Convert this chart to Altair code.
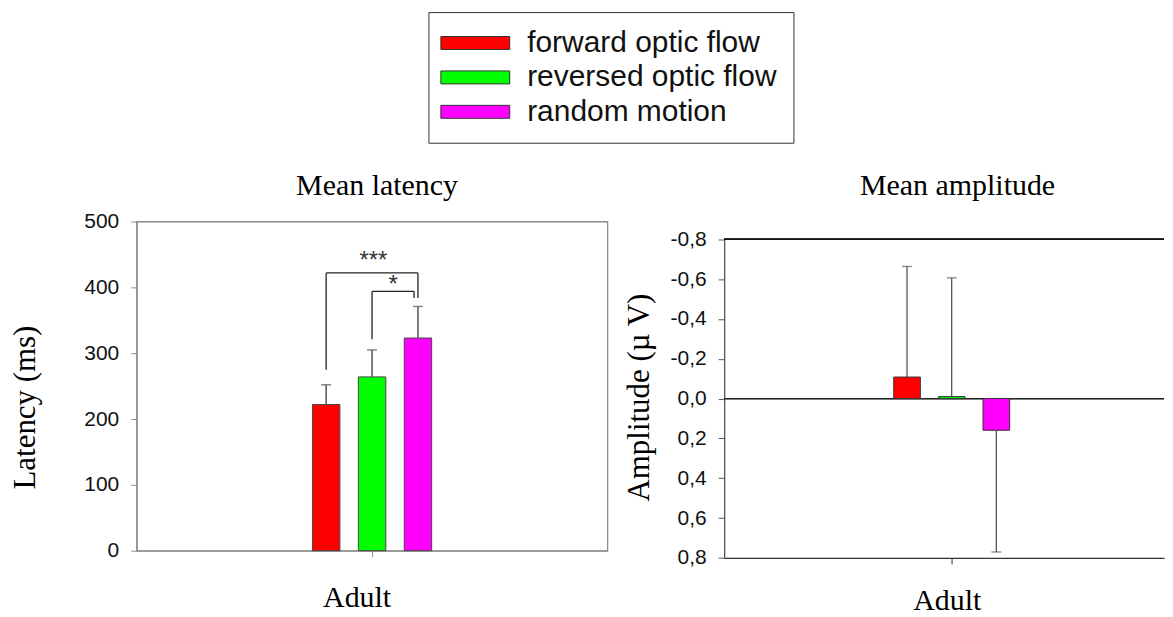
import altair as alt
import pandas as pd

# ---------------- data ----------------
group_label = "Adult"
conditions = ["forward optic flow", "reversed optic flow", "random motion"]
colors = ["#FF0000", "#00FF00", "#FF00FF"]
slot = [-1, 0, 1]  # position of each condition inside the group

latency_mean = [222, 264, 323]
latency_err = [30, 41, 48]

amp_mean = [-0.108, -0.010, 0.159]
amp_err = [0.555, 0.596, 0.611]

# significance brackets on the latency panel
br_x1 = [-1, 0]
br_x2 = [1, 0.915]
br_top = [422, 394]
br_left_bottom = [275, 321]
br_right_bottom = [384, 384]
br_label = ["***", "*"]
br_label_x = [0.03, 0.46]
br_label_y = [430, 393]

lat_ticks = [0, 100, 200, 300, 400, 500]
amp_ticks = [-0.8, -0.6, -0.4, -0.2, 0.0, 0.2, 0.4, 0.6, 0.8]

# ---------------- tables ----------------
lat = pd.DataFrame({"condition": conditions, "slot": slot,
                    "mean": latency_mean,
                    "end": [m + e for m, e in zip(latency_mean, latency_err)]})
amp = pd.DataFrame({"condition": conditions, "slot": slot,
                    "mean": amp_mean,
                    "end": [m + (e if m > 0 else -e) for m, e in zip(amp_mean, amp_err)]})
br = pd.DataFrame({"x1": br_x1, "x2": br_x2, "top": br_top,
                   "lb": br_left_bottom, "rb": br_right_bottom,
                   "label": br_label, "lx": br_label_x, "ly": br_label_y})

SERIF = "Liberation Serif"
SANS = "Liberation Sans"

legend = alt.Legend(
    title=None, orient="none", legendX=292.5, legendY=-210, direction="vertical",
    symbolType="M-5.31,-1H5.31V1H-5.31Z", symbolSize=169, symbolOffset=16,
    symbolStrokeColor="#333333", symbolStrokeWidth=1, symbolOpacity=1,
    labelFont=SANS, labelFontSize=30, labelColor="#111111", labelOffset=37,
    labelLimit=0, rowPadding=4.5, padding=16, strokeColor="#333333",
    fillColor="white",
)
color = alt.Color("condition:N", sort=conditions,
                  scale=alt.Scale(domain=conditions, range=colors), legend=legend)

# ---------------- left panel: latency ----------------
lx_scale = alt.Scale(domain=[-5.02, 5.02], nice=False, zero=False)
ly_scale = alt.Scale(domain=[0, 500], nice=False)
gray = "#8c8c8c"

lx_axis = alt.Axis(values=[0], labelExpr=f"'{group_label}'", title=None, grid=False,
                   tickSize=6, tickColor=gray, domainColor=gray, domainWidth=1.3,
                   labelFont=SERIF, labelFontSize=30, labelColor="black",
                   labelPadding=26, labelOffset=-15.5)
ly_axis = alt.Axis(values=lat_ticks, title="Latency (ms)", titleFont=SERIF,
                   titleFontSize=31, titleFontWeight="normal", titleColor="black",
                   titleAngle=270, titleX=-102.5, titleY=186, titleAlign="center",
                   titleBaseline="alphabetic", grid=False, tickSize=6,
                   tickColor=gray, domainColor=gray, domainWidth=1.3,
                   labelPadding=12, labelFont=SANS, labelFontSize=21,
                   labelColor="#111111")

lbase = alt.Chart(lat)
l_bars = lbase.mark_bar(width=27.5, stroke="#444444", strokeWidth=1, orient="vertical").encode(
    x=alt.X("slot:Q", scale=lx_scale, axis=lx_axis),
    y=alt.Y("mean:Q", scale=ly_scale, axis=ly_axis),
    color=color,
)
l_err = lbase.mark_rule(color="#555555", strokeWidth=1.5).encode(
    x="slot:Q", y="mean:Q", y2="end:Q")
l_cap = lbase.mark_tick(orient="horizontal", size=10, thickness=1.5, color="#555555").encode(
    x="slot:Q", y="end:Q")

bbase = alt.Chart(br)
b_h = bbase.mark_rule(color="#222222", strokeWidth=1.3).encode(x="x1:Q", x2="x2:Q", y="top:Q")
b_l = bbase.mark_rule(color="#222222", strokeWidth=1.3).encode(x="x1:Q", y="lb:Q", y2="top:Q")
b_r = bbase.mark_rule(color="#222222", strokeWidth=1.3).encode(x="x2:Q", y="rb:Q", y2="top:Q")
b_t = bbase.mark_text(font=SANS, fontSize=24, baseline="alphabetic", align="center",
                      color="#333333").encode(x="lx:Q", y="ly:Q", text="label:N")

left = alt.layer(l_bars, l_err, l_cap, b_h, b_l, b_r, b_t).properties(
    width=472, height=330,
    title=alt.TitleParams("Mean latency", font=SERIF, fontSize=30, fontWeight="normal",
                          color="black", anchor="middle", frame="group",
                          baseline="alphabetic", offset=26, dx=5, dy=40),
    view=alt.ViewBackground(stroke=gray, strokeWidth=1.3),
)

# ---------------- right panel: amplitude ----------------
rx_scale = alt.Scale(domain=[-4.985, 4.644], nice=False, zero=False)
ry_scale = alt.Scale(domain=[-0.8, 0.8], range=[17.7, 337.3], nice=False, zero=False)

rx_axis = alt.Axis(values=[0], labelExpr=f"'{group_label}'", title=None, grid=False,
                   tickSize=6, tickColor="#333333", domainColor="#333333", domainWidth=1.3,
                   labelFont=SERIF, labelFontSize=30, labelColor="black",
                   labelPadding=22, labelOffset=-5)
ry_axis = alt.Axis(values=amp_ticks,
                   labelExpr="(datum.value < -1e-9 ? '-' : '') + replace(format(abs(datum.value), '.1f'), '.', ',')",
                   title="Amplitude (\u00b5 V)", titleFont=SERIF, titleFontSize=31,
                   titleFontWeight="normal", titleColor="black", titleAngle=270,
                   titleX=-76, titleY=176, titleAlign="center", titleBaseline="alphabetic",
                   grid=False, tickSize=6, tickColor="#555555", domainColor="#555555",
                   domainWidth=1.3, labelPadding=12, labelFont=SANS, labelFontSize=21,
                   labelColor="#111111")

rbase = alt.Chart(amp)
r_bars = rbase.mark_bar(width=26.7, stroke="#333333", strokeWidth=1, orient="vertical").encode(
    x=alt.X("slot:Q", scale=rx_scale, axis=rx_axis),
    y=alt.Y("mean:Q", scale=ry_scale, axis=ry_axis),
    color=color,
)
r_err = rbase.mark_rule(color="#555555", strokeWidth=1.3).encode(
    x="slot:Q", y="mean:Q", y2="end:Q")
r_cap = rbase.mark_tick(orient="horizontal", size=10, thickness=1.3, color="#555555").encode(
    x="slot:Q", y="end:Q")
r_zero = alt.Chart(amp).mark_rule(color="#222222", strokeWidth=1.3).encode(y=alt.datum(0))
r_top = alt.Chart(amp).mark_rule(color="#111111", strokeWidth=1.3).encode(y=alt.datum(amp_ticks[0]))

right = alt.layer(r_zero, r_top, r_err, r_cap, r_bars).properties(
    width=441, height=337.3,
    title=alt.TitleParams("Mean amplitude", font=SERIF, fontSize=30, fontWeight="normal",
                          color="black", anchor="middle", frame="group",
                          baseline="alphabetic", offset=26, dx=13.5, dy=29),
    view=alt.ViewBackground(strokeWidth=0),
)

chart = alt.hconcat(left, right, spacing=117, bounds="flush").properties(
    padding={"left": 0, "top": 2.3, "right": 0, "bottom": 0},
    background="white",
)

chart.save("out.html", embed_options={"renderer": "svg", "actions": False})
